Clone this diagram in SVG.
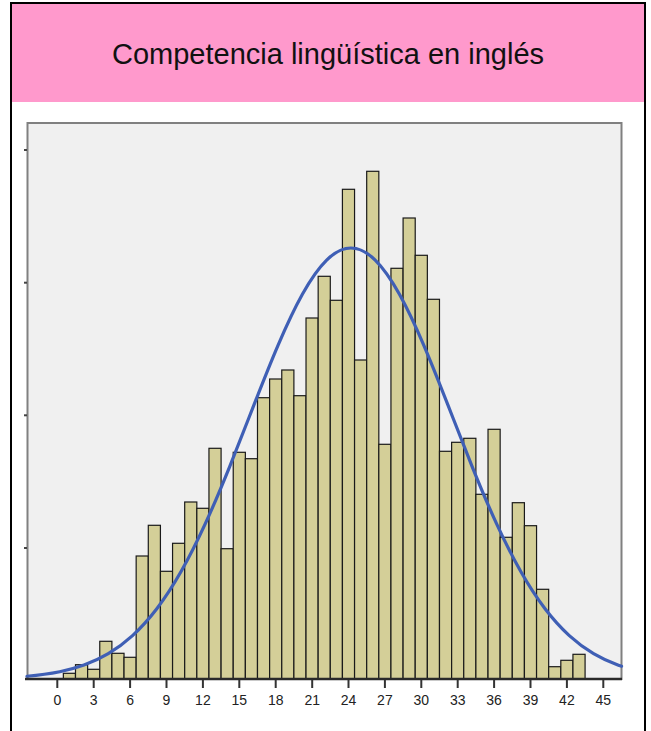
<svg xmlns="http://www.w3.org/2000/svg" width="651" height="731" viewBox="0 0 651 731">
<style>
.bar{fill:#d4cf98;stroke:#1a1a1a;stroke-width:1.2}
.tick{stroke:#333;stroke-width:2}
.lbl{font-family:"Liberation Sans",Arial,sans-serif;font-size:14px;fill:#222;text-anchor:middle}
.title{font-family:"Liberation Sans",Arial,sans-serif;font-size:29px;fill:#111;text-anchor:middle}
</style>
<rect x="0" y="0" width="651" height="731" fill="#ffffff"/>
<g id="frame">
<rect x="11" y="3" width="634" height="740" fill="#ffffff" stroke="#000" stroke-width="2"/>
<rect x="12" y="4" width="632" height="98" fill="#ff99cc"/>
</g>
<g id="title"><text class="title" x="328" y="64">Competencia lingüística en inglés</text></g>
<g id="plot">
<rect x="27.5" y="123" width="594" height="556" fill="#f0f0f0" stroke="#808080" stroke-width="2"/>
<g id="yticks" stroke="#444" stroke-width="2">
<line x1="24" y1="150" x2="27" y2="150"/>
<line x1="24" y1="282.7" x2="27" y2="282.7"/>
<line x1="24" y1="415.3" x2="27" y2="415.3"/>
<line x1="24" y1="548" x2="27" y2="548"/>
</g>
<g id="bars">
<rect class="bar" x="63.36" y="673.3" width="12.13" height="5.7"/>
<rect class="bar" x="75.50" y="664.7" width="12.13" height="14.3"/>
<rect class="bar" x="87.63" y="669.3" width="12.13" height="9.7"/>
<rect class="bar" x="99.76" y="641.3" width="12.13" height="37.7"/>
<rect class="bar" x="111.90" y="653.3" width="12.13" height="25.7"/>
<rect class="bar" x="124.03" y="657.3" width="12.13" height="21.7"/>
<rect class="bar" x="136.16" y="556" width="12.13" height="123"/>
<rect class="bar" x="148.29" y="525.3" width="12.13" height="153.7"/>
<rect class="bar" x="160.43" y="571.3" width="12.13" height="107.7"/>
<rect class="bar" x="172.56" y="543.3" width="12.13" height="135.7"/>
<rect class="bar" x="184.69" y="502" width="12.13" height="177"/>
<rect class="bar" x="196.83" y="508.3" width="12.13" height="170.7"/>
<rect class="bar" x="208.96" y="448.3" width="12.13" height="230.7"/>
<rect class="bar" x="221.09" y="548.7" width="12.13" height="130.3"/>
<rect class="bar" x="233.23" y="452.3" width="12.13" height="226.7"/>
<rect class="bar" x="245.36" y="458.7" width="12.13" height="220.3"/>
<rect class="bar" x="257.49" y="397.7" width="12.13" height="281.3"/>
<rect class="bar" x="269.62" y="379" width="12.13" height="300"/>
<rect class="bar" x="281.76" y="370" width="12.13" height="309"/>
<rect class="bar" x="293.89" y="395.7" width="12.13" height="283.3"/>
<rect class="bar" x="306.02" y="318" width="12.13" height="361"/>
<rect class="bar" x="318.16" y="276.3" width="12.13" height="402.7"/>
<rect class="bar" x="330.29" y="300.3" width="12.13" height="378.7"/>
<rect class="bar" x="342.42" y="189.3" width="12.13" height="489.7"/>
<rect class="bar" x="354.56" y="360" width="12.13" height="319"/>
<rect class="bar" x="366.69" y="171.3" width="12.13" height="507.7"/>
<rect class="bar" x="378.82" y="444.3" width="12.13" height="234.7"/>
<rect class="bar" x="390.95" y="268.3" width="12.13" height="410.7"/>
<rect class="bar" x="403.09" y="218" width="12.13" height="461"/>
<rect class="bar" x="415.22" y="255.3" width="12.13" height="423.7"/>
<rect class="bar" x="427.35" y="299.3" width="12.13" height="379.7"/>
<rect class="bar" x="439.49" y="451.3" width="12.13" height="227.7"/>
<rect class="bar" x="451.62" y="442.3" width="12.13" height="236.7"/>
<rect class="bar" x="463.75" y="438.3" width="12.13" height="240.7"/>
<rect class="bar" x="475.89" y="494.3" width="12.13" height="184.7"/>
<rect class="bar" x="488.02" y="429.3" width="12.13" height="249.7"/>
<rect class="bar" x="500.15" y="537.3" width="12.13" height="141.7"/>
<rect class="bar" x="512.28" y="502.7" width="12.13" height="176.3"/>
<rect class="bar" x="524.42" y="525.7" width="12.13" height="153.3"/>
<rect class="bar" x="536.55" y="589.3" width="12.13" height="89.7"/>
<rect class="bar" x="548.68" y="666.7" width="12.13" height="12.3"/>
<rect class="bar" x="560.82" y="660.3" width="12.13" height="18.7"/>
<rect class="bar" x="572.95" y="654.3" width="12.13" height="24.7"/>
</g>
<g id="curve">
<path fill="none" stroke="#3f5fb5" stroke-width="3.2" stroke-linecap="round" d="M26.97,676.24 C37.89,675.30 48.81,673.96 59.73,671.73 C67.82,670.08 75.90,667.94 83.99,665.04 C92.08,662.14 100.17,658.47 108.26,653.68 C116.35,648.90 124.44,642.99 132.53,635.61 C140.62,628.23 148.70,619.38 156.79,608.76 C164.88,598.14 172.97,585.75 181.06,571.53 C189.15,557.31 197.23,541.26 205.32,523.65 C213.41,506.04 221.50,486.86 229.59,466.81 C237.68,446.76 245.77,425.83 253.86,405.13 C261.95,384.43 270.03,363.99 278.12,345.06 C286.21,326.13 294.30,308.74 302.39,294.20 C310.48,279.66 318.56,267.96 326.65,260.04 C334.74,252.12 342.83,248.00 350.92,248.00 C359.01,248.00 367.10,252.12 375.19,260.04 C383.28,267.96 391.36,279.66 399.45,294.20 C407.54,308.74 415.63,326.13 423.72,345.06 C431.81,363.99 439.89,384.43 447.98,405.13 C456.07,425.83 464.16,446.76 472.25,466.81 C480.34,486.86 488.43,506.04 496.52,523.65 C504.61,541.26 512.69,557.31 520.78,571.53 C528.87,585.75 536.96,598.14 545.05,608.76 C553.14,619.38 561.22,628.23 569.31,635.61 C577.40,642.99 585.49,648.90 593.58,653.68 C601.67,658.47 609.76,662.14 617.85,665.04 C619.09,665.48 620.32,665.88 621.56,666.29"/>
</g>
<line x1="25" y1="679" x2="622" y2="679" stroke="#2a2a2a" stroke-width="2.4"/>
<g id="xticks">
<line class="tick" x1="57.3" y1="680" x2="57.3" y2="688"/>
<line class="tick" x1="93.7" y1="680" x2="93.7" y2="688"/>
<line class="tick" x1="130.1" y1="680" x2="130.1" y2="688"/>
<line class="tick" x1="166.5" y1="680" x2="166.5" y2="688"/>
<line class="tick" x1="202.9" y1="680" x2="202.9" y2="688"/>
<line class="tick" x1="239.3" y1="680" x2="239.3" y2="688"/>
<line class="tick" x1="275.7" y1="680" x2="275.7" y2="688"/>
<line class="tick" x1="312.2" y1="680" x2="312.2" y2="688"/>
<line class="tick" x1="348.5" y1="680" x2="348.5" y2="688"/>
<line class="tick" x1="384.9" y1="680" x2="384.9" y2="688"/>
<line class="tick" x1="421.3" y1="680" x2="421.3" y2="688"/>
<line class="tick" x1="457.7" y1="680" x2="457.7" y2="688"/>
<line class="tick" x1="494.1" y1="680" x2="494.1" y2="688"/>
<line class="tick" x1="530.5" y1="680" x2="530.5" y2="688"/>
<line class="tick" x1="566.9" y1="680" x2="566.9" y2="688"/>
<line class="tick" x1="603.3" y1="680" x2="603.3" y2="688"/>
</g>
<g id="xlabels">
<text class="lbl" x="57.3" y="705">0</text>
<text class="lbl" x="93.7" y="705">3</text>
<text class="lbl" x="130.1" y="705">6</text>
<text class="lbl" x="166.5" y="705">9</text>
<text class="lbl" x="202.9" y="705">12</text>
<text class="lbl" x="239.3" y="705">15</text>
<text class="lbl" x="275.7" y="705">18</text>
<text class="lbl" x="312.2" y="705">21</text>
<text class="lbl" x="348.5" y="705">24</text>
<text class="lbl" x="384.9" y="705">27</text>
<text class="lbl" x="421.3" y="705">30</text>
<text class="lbl" x="457.7" y="705">33</text>
<text class="lbl" x="494.1" y="705">36</text>
<text class="lbl" x="530.5" y="705">39</text>
<text class="lbl" x="566.9" y="705">42</text>
<text class="lbl" x="603.3" y="705">45</text>
</g>
</g>
</svg>
